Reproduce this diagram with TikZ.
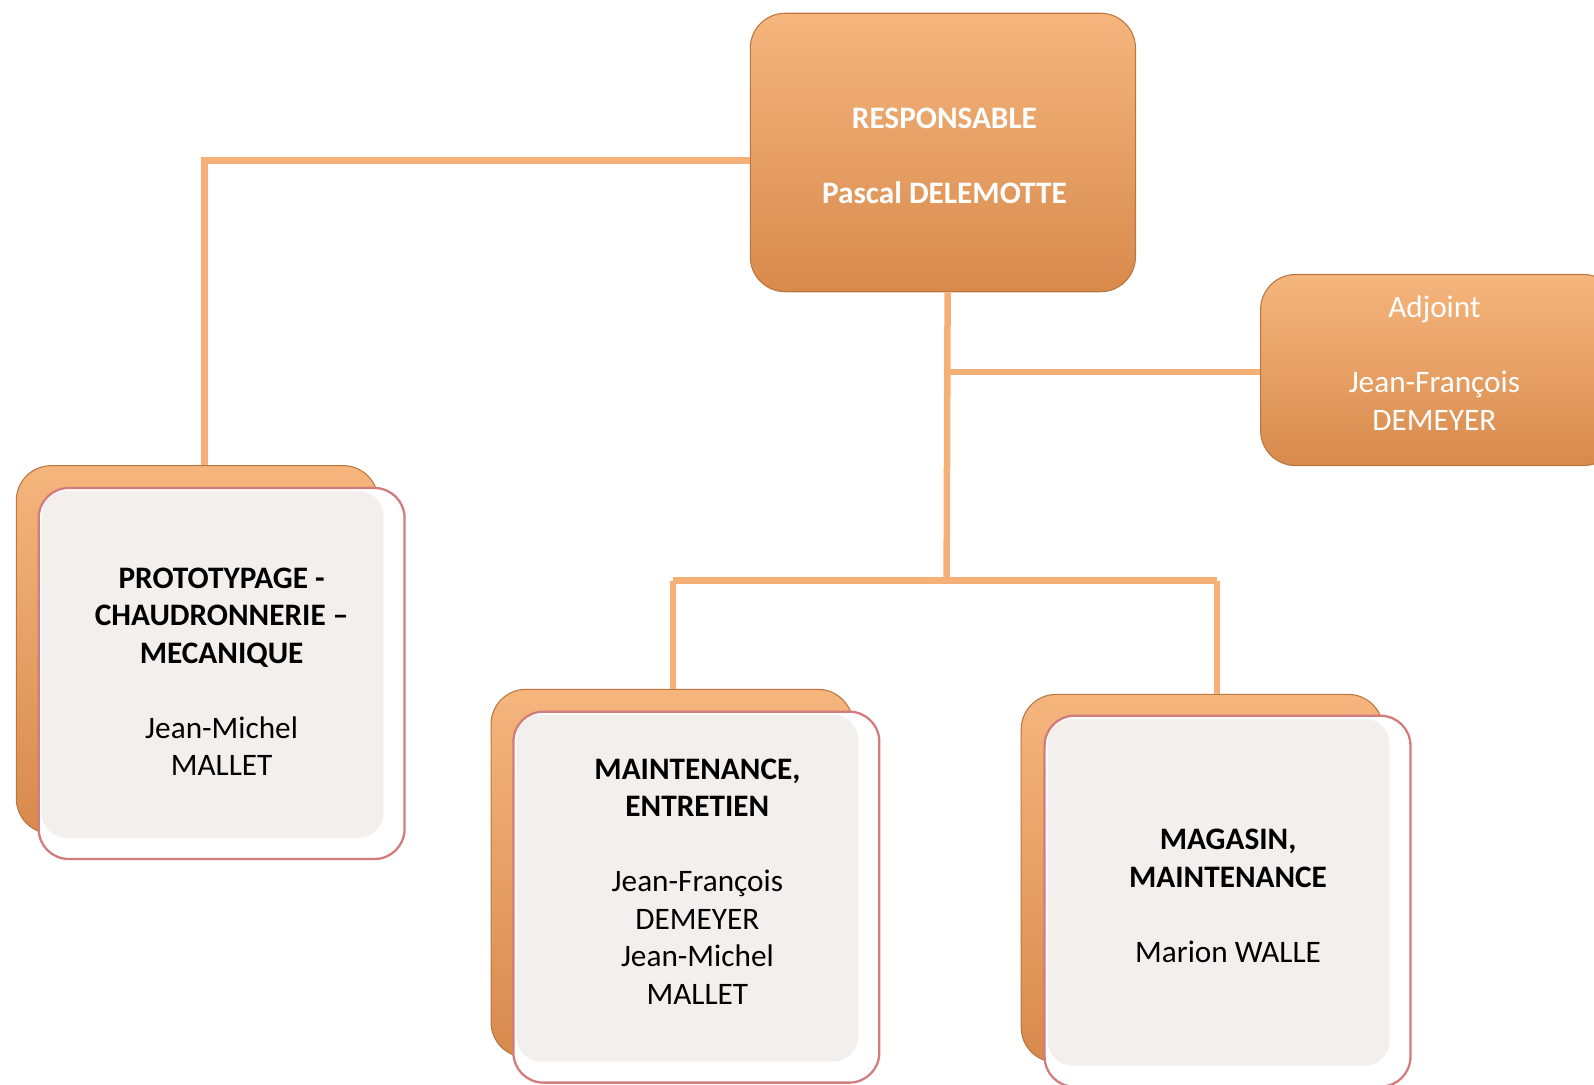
\documentclass[tikz,border=0pt]{standalone}
\usepackage{fontspec}
\setmainfont{Carlito}
\usetikzlibrary{calc}

\definecolor{boxtop}{HTML}{F5B57D}
\definecolor{boxbot}{HTML}{D88A4C}
\definecolor{boxedge}{HTML}{B9763F}
\definecolor{linkorange}{HTML}{F4B076}
\definecolor{pinkedge}{HTML}{D27C7E}
\definecolor{cardfill}{HTML}{F3EFEC}

\tikzset{
  link/.style={draw=linkorange, line width=0.13cm},
  headbox/.style={shape=rectangle, rounded corners=0.7cm, top color=boxtop, bottom color=boxbot, draw=boxedge, line width=0.6pt},
  backbox/.style={headbox, minimum width=7.12cm, minimum height=7.24cm},
  frontbox/.style={shape=rectangle, rounded corners=0.6cm, fill=white, draw=pinkedge, line width=1.3pt, minimum width=7.2cm, minimum height=7.3cm},
  whitetxt/.style={text=white, align=center, font=\fontsize{17.5}{21}\selectfont},
  blacktxt/.style={text=black, align=center, font=\fontsize{17.5}{21}\selectfont}
}

\begin{document}
\begin{tikzpicture}[x=0.02cm, y=-0.02cm, scale=1.0166, every node/.style={scale=1.0166}]
    \useasboundingbox (0,0) rectangle (1568,1067.3);

    % top of the chart
    \node[headbox, minimum width=7.58cm, minimum height=5.48cm] (resp) at (927.5,150) {};
    \node[whitetxt] (respTxt) at (929,153) {\textbf{RESPONSABLE}\\[21pt]\textbf{Pascal DELEMOTTE}};
    \node[headbox, minimum width=7.04cm, minimum height=3.76cm] (adj) at (1416,364) {};
    \node[whitetxt] (adjTxt) at (1411,357) {Adjoint\\[21pt]Jean-François\\DEMEYER};

    % services
    \node[backbox] (protoBack) at (194,639) {};
    \node[frontbox] (proto) at (218,662.5) {};
    \node[backbox] (maintBack) at (661,859) {};
    \node[frontbox] (maint) at (685,882.5) {};
    \node[backbox] (magBack) at (1182.5,864) {};
    \node[frontbox] (mag) at (1207.5,886.5) {};

    \foreach \card in {proto, maint, mag}
        \fill[cardfill, rounded corners=0.5cm] ($(\card.north west)+(4,4)$) rectangle ($(\card.south east)+(-22,-22)$);

    \node[blacktxt] (protoTxt) at (218,661) {\textbf{PROTOTYPAGE -}\\\textbf{CHAUDRONNERIE –}\\\textbf{MECANIQUE}\\[21pt]Jean-Michel\\MALLET};
    \node[blacktxt] (maintTxt) at (686,867) {\textbf{MAINTENANCE,}\\\textbf{ENTRETIEN}\\[21pt]Jean-François\\DEMEYER\\Jean-Michel\\MALLET};
    \node[blacktxt] (magTxt) at (1208,881) {\textbf{MAGASIN,}\\\textbf{MAINTENANCE}\\[21pt]Marion WALLE};

    % connectors
    \coordinate (kProto) at (201,158);
    \coordinate (kAdj) at (932,366);
    \coordinate (kDown) at (931,571);
    \coordinate (kMaint) at (662,571);
    \coordinate (kMag) at (1197,571);

    \draw[link] (resp.west |- kProto) -- (kProto) -- (protoBack.north -| kProto);
    \draw[link] (resp.south -| kAdj) -- (kDown);
    \draw[link] (kAdj) -- (adj.west |- kAdj);
    \draw[link] (kMaint) -- (kMag);
    \draw[link] (kMaint) -- (maintBack.north -| kMaint);
    \draw[link] (kMag) -- (magBack.north -| kMag);
\end{tikzpicture}
\end{document}
